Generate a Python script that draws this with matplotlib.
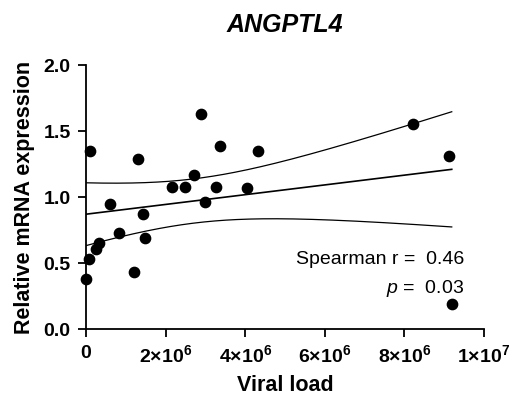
import matplotlib
matplotlib.use("Agg")
import matplotlib.pyplot as plt
import numpy as np

plt.rcParams["font.family"] = ["Liberation Sans", "DejaVu Sans"]
plt.rcParams["mathtext.fontset"] = "custom"
plt.rcParams["mathtext.rm"] = "Liberation Sans"
plt.rcParams["mathtext.bf"] = "Liberation Sans:bold"
plt.rcParams["mathtext.it"] = "Liberation Sans:italic"

# Données
viral_load = [0.10e6, 2.89e6, 3.37e6, 4.32e6, 1.31e6, 2.72e6, 2.15e6, 2.50e6,
              3.26e6, 4.05e6, 2.99e6, 0.60e6, 1.44e6, 0.82e6, 1.49e6, 0.33e6,
              0.24e6, 0.07e6, 1.21e6, 0.01e6, 8.22e6, 9.12e6, 9.19e6]
mrna = [1.35, 1.63, 1.39, 1.35, 1.29, 1.17, 1.08, 1.08,
        1.08, 1.07, 0.96, 0.95, 0.87, 0.73, 0.69, 0.65,
        0.61, 0.53, 0.43, 0.38, 1.55, 1.31, 0.19]
xticks = [0, 2e6, 4e6, 6e6, 8e6, 1e7]
xtick_labels = ["0", r"$\mathbf{2{\times}10^{6}}$", r"$\mathbf{4{\times}10^{6}}$",
                r"$\mathbf{6{\times}10^{6}}$", r"$\mathbf{8{\times}10^{6}}$",
                r"$\mathbf{1{\times}10^{7}}$"]
yticks = [0.0, 0.5, 1.0, 1.5, 2.0]

x = np.array(viral_load)
y = np.array(mrna)

# Régression linéaire + intervalle de confiance à 95 %
n = len(x)
slope, intercept = np.polyfit(x, y, 1)
resid = y - (slope * x + intercept)
s = np.sqrt(np.sum(resid ** 2) / (n - 2))
xs = np.linspace(0, x.max(), 200)
ys = slope * xs + intercept
t = 2.08
ci = t * s * np.sqrt(1 / n + (xs - x.mean()) ** 2 / np.sum((x - x.mean()) ** 2))

fig = plt.figure(figsize=(5.1, 3.98), dpi=100)
ax = fig.add_axes([0.1686, 0.1726, 0.7804, 0.664])

ax.plot(xs, ys, color="black", lw=1.2)
ax.plot(xs, ys + ci, color="black", lw=0.9)
ax.plot(xs, ys - ci, color="black", lw=0.9)
ax.scatter(x, y, s=55, color="black", zorder=3, clip_on=False)

ax.set_xlim(0, 1e7)
ax.set_ylim(0, 2.0)
ax.set_xticks(xticks)
ax.set_xticklabels(xtick_labels)
ax.set_yticks(yticks)
ax.set_yticklabels([f"{v:.1f}" for v in yticks])
for lab in ax.get_xticklabels() + ax.get_yticklabels():
    lab.set_fontweight("bold")
    lab.set_fontsize(14)

for side in ["top", "right"]:
    ax.spines[side].set_visible(False)
for side in ["left", "bottom"]:
    ax.spines[side].set_linewidth(1.3)
ax.tick_params(direction="out", length=6, width=1.3, pad=5)

ax.set_xlabel("Viral load", fontsize=15.5, fontweight="bold", labelpad=6)
ax.set_ylabel("Relative mRNA expression", fontsize=15.5, fontweight="bold", labelpad=6)
ax.set_title("ANGPTL4", fontsize=18, fontweight="bold", fontstyle="italic", pad=24)

ax.text(9.51e6, 0.525, "Spearman r =  0.46", ha="right", va="center", fontsize=14)
ax.text(9.51e6, 0.31, r"$\it{p}$ =  0.03", ha="right", va="center", fontsize=14)

plt.savefig("out.png", dpi=100)
